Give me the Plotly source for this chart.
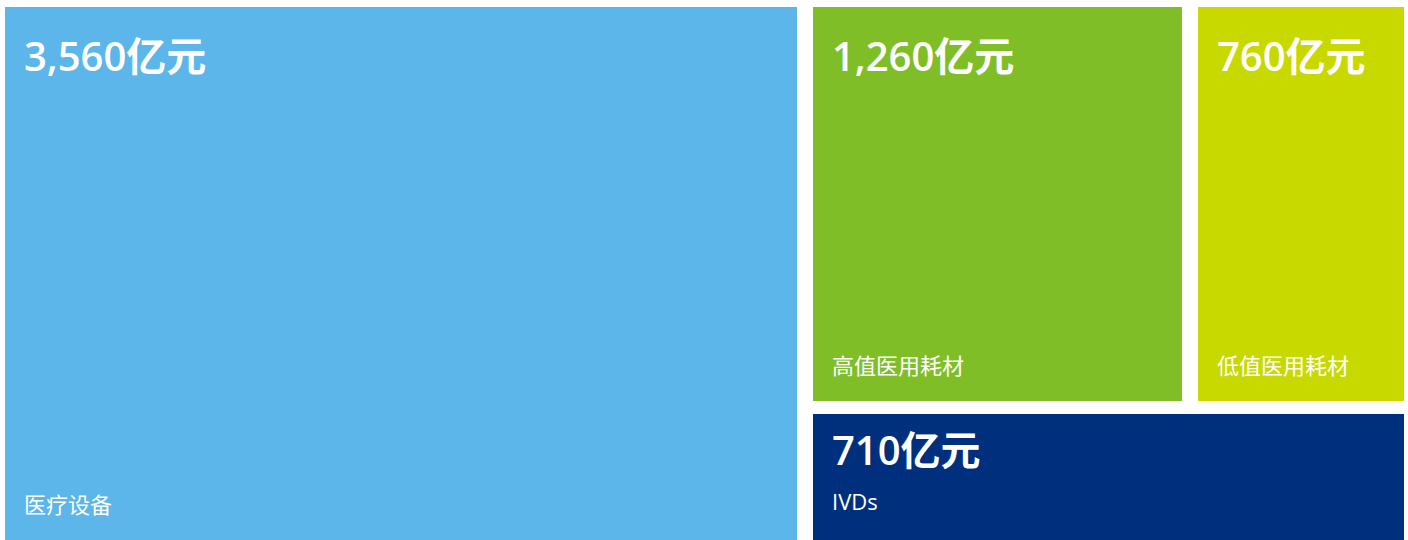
import plotly.graph_objects as go

# ---- data ----
categories = ["医疗设备", "高值医用耗材", "低值医用耗材", "IVDs"]
values = [3560, 1260, 760, 710]  # 亿元
colors = ["#5DB6E9", "#80BE28", "#C8D900", "#00307D"]

# ---- layout geometry (plot area in pixel-like units) ----
FIG_W, FIG_H = 1408, 540
M_L, M_R, M_T, M_B = 5, 4, 7, 0
PW = FIG_W - M_L - M_R
PH = FIG_H - M_T - M_B
GAP_X, GAP_Y = 16, 13

total = sum(values)
v0, v1, v2, v3 = values
# first column: largest block
big_x1 = PW * v0 / total
rects = [(0, big_x1, 0, PH)]
# right region
rx0 = big_x1 + GAP_X
top_split = PH * (v1 + v2) / (v1 + v2 + v3)
g_x1 = rx0 + (PW - rx0) * v1 / (v1 + v2)
rects.append((rx0, g_x1, 0, top_split))
rects.append((g_x1 + GAP_X, PW, 0, top_split))
rects.append((rx0, PW, top_split + GAP_Y, PH))

xs = [(r[0] + r[1]) / 2 for r in rects]
ws = [r[1] - r[0] for r in rects]
bases = [r[2] for r in rects]
hs = [r[3] - r[2] for r in rects]

fig = go.Figure()
fig.add_trace(go.Bar(
    x=xs, y=hs, base=bases, width=ws,
    marker=dict(color=colors, line=dict(width=0)),
    customdata=[[c, v] for c, v in zip(categories, values)],
    hovertemplate="%{customdata[0]}: %{customdata[1]:,}亿元<extra></extra>",
    showlegend=False,
))

FONT = "Open Sans, Noto Sans CJK SC, sans-serif"
PAD_L = 17
annotations = []
for i, (r, cat, v) in enumerate(zip(rects, categories, values)):
    h = r[3] - r[2]
    small = h < 200
    annotations.append(dict(
        x=r[0], y=r[2], xref="x", yref="y", xanchor="left", yanchor="top",
        xshift=PAD_L, yshift=(-6 if small else -19), showarrow=False,
        text=f"{v:,}亿元", font=dict(family=FONT, size=40, color="white", weight=600),
    ))
    annotations.append(dict(
        x=r[0], y=r[3], xref="x", yref="y", xanchor="left", yanchor="bottom",
        xshift=PAD_L, yshift=(22 if small else 19), showarrow=False,
        text=cat, font=dict(family=FONT, size=22, color="white"),
    ))

fig.update_layout(
    width=FIG_W, height=FIG_H,
    margin=dict(l=M_L, r=M_R, t=M_T, b=M_B, pad=0),
    paper_bgcolor="white", plot_bgcolor="white",
    barmode="overlay", bargap=0,
    xaxis=dict(range=[0, PW], visible=False, fixedrange=True),
    yaxis=dict(range=[PH, 0], visible=False, fixedrange=True),
    annotations=annotations,
)

fig.write_html(
    "out.html",
    config={"displayModeBar": False},
    post_script="document.body.style.margin='0';document.body.style.overflow='hidden';",
)
